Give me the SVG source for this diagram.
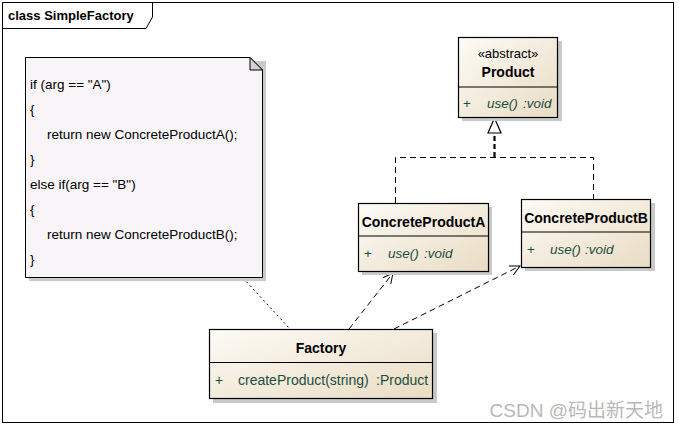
<svg xmlns="http://www.w3.org/2000/svg" width="679" height="427" viewBox="0 0 679 427">
<defs>
<linearGradient id="cls" x1="0" y1="0" x2="1" y2="1">
<stop offset="0" stop-color="#fdfbf6"/>
<stop offset="1" stop-color="#e9dcc3"/>
</linearGradient>
<marker id="open" viewBox="0 0 12 12" refX="11" refY="6" markerWidth="12" markerHeight="12" markerUnits="userSpaceOnUse" orient="auto">
<path d="M1,1 L11,6 L1,11" fill="none" stroke="#000" stroke-width="1"/>
</marker>
</defs>
<style>
.frame{fill:#fff;stroke:#000;stroke-width:1}
.box{fill:url(#cls);stroke:#000;stroke-width:1.2}
.shadow{fill:#c9c9c9}
.div{stroke:#000;stroke-width:1}
.t{font-family:"Liberation Sans",Arial,sans-serif;font-size:13.5px;fill:#000}
.b{font-weight:bold;font-size:14px}
.op{font-family:"Liberation Sans",Arial,sans-serif;font-size:13.5px;fill:#1d4d3e}
.i{font-style:italic}
.dash{fill:none;stroke:#000;stroke-width:1;stroke-dasharray:6,4}
.dot{fill:none;stroke:#000;stroke-width:1;stroke-dasharray:2,3}
</style>
<rect x="0" y="0" width="679" height="427" fill="#fff"/>
<g id="frame">
<rect class="frame" x="2.5" y="2.5" width="671" height="420"/>
<path d="M2.5,28.5 H146 L152.5,17 V2.5" fill="none" stroke="#000" stroke-width="1"/>
<text class="t b" x="8" y="20" style="font-size:13px">class SimpleFactory</text>
</g>
<g id="connectors">
<path class="dot" d="M243,278 L290,329"/>
<path class="dash" d="M349,329 L393,273" marker-end="url(#open)"/>
<path class="dash" d="M394,329 L520,266" marker-end="url(#open)"/>
<path class="dash" d="M395.5,203 V157.5 H593.5 V199"/>
<path d="M494.5,157 V133" fill="none" stroke="#000" stroke-width="2.2" stroke-dasharray="5,3"/>
<path d="M494.5,118 L488,133 H501 Z" fill="#fff" stroke="#000" stroke-width="1.2"/>
</g>
<g id="note">
<path class="shadow" d="M29,61 H266 V281 H29 Z"/>
<path d="M25.5,57.5 H250 L262.5,70 V277.5 H25.5 Z" fill="#f8f4f7" stroke="#000" stroke-width="1"/>
<path d="M250,57.5 V70 H262.5 Z" fill="#d4d0d4" stroke="#000" stroke-width="1"/>
<text class="t" x="30" y="89">if (arg == "A")</text>
<text class="t" x="30" y="114">{</text>
<text class="t" x="47" y="139">return new ConcreteProductA();</text>
<text class="t" x="30" y="164">}</text>
<text class="t" x="30" y="189">else if(arg == "B")</text>
<text class="t" x="30" y="214">{</text>
<text class="t" x="47" y="239">return new ConcreteProductB();</text>
<text class="t" x="30" y="264">}</text>
</g>
<g id="product">
<rect class="shadow" x="462" y="41" width="100" height="80"/>
<rect class="box" x="458.5" y="37.5" width="99" height="80"/>
<line class="div" x1="458.5" y1="87" x2="557.5" y2="87"/>
<text class="t" x="508" y="58" text-anchor="middle" style="font-size:13px">«abstract»</text>
<text class="t b" x="508" y="77" text-anchor="middle">Product</text>
<text class="op" x="463" y="108">+</text>
<text class="op i" x="487" y="108">use()</text>
<text class="op i" x="523" y="108">:void</text>
</g>
<g id="concreteProductA">
<rect class="shadow" x="362" y="207" width="130" height="68"/>
<rect class="box" x="358.5" y="203.5" width="130" height="68"/>
<line class="div" x1="358.5" y1="236" x2="488.5" y2="236"/>
<text class="t b" x="423.5" y="227" text-anchor="middle">ConcreteProductA</text>
<text class="op" x="364" y="258">+</text>
<text class="op i" x="388" y="258">use()</text>
<text class="op i" x="424" y="258">:void</text>
</g>
<g id="concreteProductB">
<rect class="shadow" x="525" y="203" width="130" height="68"/>
<rect class="box" x="521.5" y="199.5" width="129" height="68"/>
<line class="div" x1="521.5" y1="232" x2="650.5" y2="232"/>
<text class="t b" x="586" y="223" text-anchor="middle">ConcreteProductB</text>
<text class="op" x="527" y="254">+</text>
<text class="op i" x="550" y="254">use()</text>
<text class="op i" x="585" y="254">:void</text>
</g>
<g id="factory">
<rect class="shadow" x="213" y="333" width="224" height="70"/>
<rect class="box" x="209.5" y="329.5" width="223" height="69"/>
<line class="div" x1="209.5" y1="362.5" x2="432.5" y2="362.5"/>
<text class="t b" x="321" y="353" text-anchor="middle">Factory</text>
<text class="op" x="215" y="385" style="font-size:14px">+</text>
<text class="op" x="238" y="385" style="font-size:14px">createProduct(string)</text>
<text class="op" x="376" y="385" style="font-size:14px">:Product</text>
</g>
<text x="663" y="417" text-anchor="end" font-family="'Liberation Sans','Noto Sans CJK SC',sans-serif" font-size="19" fill="#b8b8b8">CSDN @码出新天地</text>
</svg>
